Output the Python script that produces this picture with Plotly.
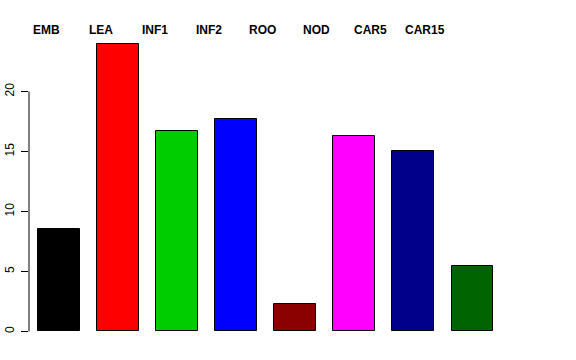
import plotly.graph_objects as go

categories = ["EMB", "LEA", "INF1", "INF2", "ROO", "NOD", "CAR5", "CAR15"]
values = [8.58, 24.0, 16.67, 17.67, 2.33, 16.33, 15.08, 5.42]
colors = ["#000000", "#FF0000", "#00CD00", "#0000FF", "#8B0000", "#FF00FF", "#00008B", "#006400"]
yticks = [0, 5, 10, 15, 20]

xpos = list(range(len(categories)))

fig = go.Figure()
fig.add_trace(go.Bar(
    x=xpos, y=values, width=0.71,
    marker=dict(color=colors, line=dict(color="#000000", width=1)),
    showlegend=False, hoverinfo="skip",
))

# top labels positioned on an invisible overlay axis
for i, c in enumerate(categories):
    fig.add_annotation(x=i, y=1, xref="x2", yref="paper", text="<b>%s</b>" % c,
                       showarrow=False, yanchor="middle", xanchor="center", yshift=2,
                       font=dict(family="Liberation Sans, Arial, sans-serif", size=12, color="#000000"))

# y axis line only spanning tick range (R style)
fig.add_shape(type="line", xref="paper", yref="y", x0=0, x1=0, y0=yticks[0], y1=yticks[-1],
              line=dict(color="#000000", width=1))

fig.update_layout(
    width=576, height=360,
    margin=dict(l=29, r=74, t=32, b=17, autoexpand=False),
    plot_bgcolor="white", paper_bgcolor="white",
    font=dict(family="Liberation Sans, Arial, sans-serif", size=12, color="#000000"),
    xaxis=dict(range=[-0.508, 7.5], showticklabels=False, showgrid=False, zeroline=False,
               showline=False, ticks="", automargin=False),
    xaxis2=dict(range=[-0.333, 8.426], overlaying="x", visible=False, showgrid=False,
                automargin=False),
    yaxis=dict(range=[-0.96, 24.96], tickvals=yticks, ticktext=[str(v) for v in yticks],
               tickangle=-90, ticks="outside", ticklen=7, tickcolor="#000000",
               showgrid=False, zeroline=False, showline=False, automargin=False,
               tickfont=dict(size=12, color="#000000"), ticklabelstandoff=2),
    bargap=0,
)

fig.write_html("out.html", config={"displayModeBar": False},
               post_script="document.body.style.margin='0';")
